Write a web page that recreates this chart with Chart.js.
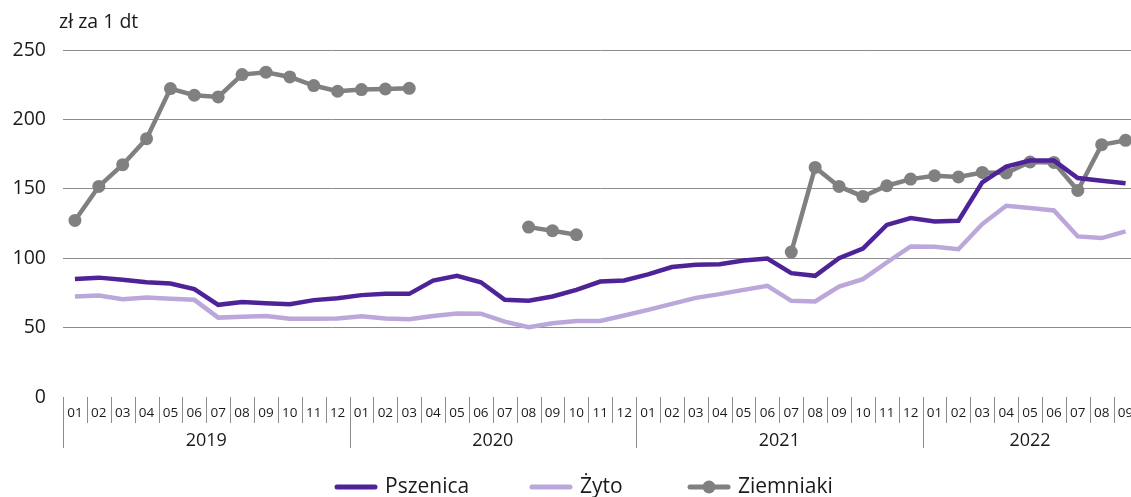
<!DOCTYPE html>
<html>
<head>
<meta charset="utf-8">
<script src="https://cdn.jsdelivr.net/npm/chart.js@4"></script>
<style>
  html, body { margin: 0; padding: 0; background: #fff; overflow: hidden; }
  #wrap { width: 1144px; height: 497px; }
</style>
</head>
<body>
<div id="wrap"><canvas id="wykres"></canvas></div>
<script>
  const miesiace = [
    '01','02','03','04','05','06','07','08','09','10','11','12',
    '01','02','03','04','05','06','07','08','09','10','11','12',
    '01','02','03','04','05','06','07','08','09','10','11','12',
    '01','02','03','04','05','06','07','08','09',
  ];
  const lata = ['2019', '2020', '2021', '2022'];
  const yTicks = [0, 50, 100, 150, 200, 250];

  const pszenica = [
    85, 86, 84.4, 82.7, 81.8, 77.7, 66.4, 68.5, 67.6, 66.9, 69.8, 71.2,
    73.4, 74.3, 74.3, 83.9, 87.3, 82.7, 70, 69.3, 72.4, 77.2, 83.2, 83.9,
    88.3, 93.6, 95.2, 95.7, 98.3, 99.8, 89.2, 87.3, 100, 107, 124, 128.9,
    126.5, 127, 154.6, 166, 170.3, 170.3, 157.8, 155.8, 154,
  ];
  const zyto = [
    72.4, 73.1, 70.5, 71.7, 70.7, 70, 57.2, 57.9, 58.4, 56.3, 56.3, 56.5,
    58.2, 56.5, 56, 58.4, 60.1, 60, 54.3, 50.3, 53.2, 54.8, 54.8, 58.7,
    62.8, 67.1, 71.4, 74.1, 77.2, 80.1, 69.3, 68.8, 79.6, 84.9, 96.9, 108.5,
    108.3, 106.5, 124.6, 137.8, 136.1, 134.4, 115.7, 114.5, 119.3,
  ];
  const ziemniaki = [
    127.2, 151.7, 167.4, 186.1, 222.2, 217.4, 216.2, 232.3, 234, 230.6, 224.4, 220.3,
    221.5, 221.9, 222.4, null, null, null, null, 122.4, 119.8, 116.9, null, null,
    null, null, null, null, null, null, 104.4, 165.4, 151.7, 144.5, 152.2, 157,
    159.4, 158.5, 161.8, 161.4, 169.3, 169, 148.8, 181.8, 184.9,
  ];

  const FONT = "'Open Sans', 'Noto Sans', sans-serif";

  const osX = {
    id: 'osX',
    afterDraw(chart) {
      const ctx = chart.ctx;
      const x = chart.scales.x;
      const top = chart.chartArea.bottom;
      const n = miesiace.length;
      const w = (x.getPixelForValue(1) - x.getPixelForValue(0));
      ctx.save();
      ctx.strokeStyle = '#8c8c8c';
      ctx.lineWidth = 1;
      for (let i = 0; i <= n; i++) {
        const px = Math.round(x.getPixelForValue(i) - w / 2) + 0.5;
        const dl = i % 12 === 0 ? 51 : 26;
        ctx.beginPath();
        ctx.moveTo(px, top);
        ctx.lineTo(px, top + dl);
        ctx.stroke();
      }
      ctx.fillStyle = '#1a1a1a';
      ctx.font = '18px ' + FONT;
      ctx.textAlign = 'center';
      ctx.textBaseline = 'middle';
      lata.forEach((rok, k) => {
        const a = k * 12;
        const b = Math.min(a + 11, n - 1);
        const xa = x.getPixelForValue(a) - w / 2;
        const xb = x.getPixelForValue(b) + w / 2;
        ctx.fillText(rok, (xa + xb) / 2, top + 44);
      });

      // tytul osi
      ctx.textAlign = 'left';
      ctx.font = '19.5px ' + FONT;
      ctx.fillText('zł za 1 dt', 59, 22);

      // legenda
      const ly = 487;
      const items = [
        { ds: chart.data.datasets[0], x: 337 },
        { ds: chart.data.datasets[1], x: 532 },
        { ds: chart.data.datasets[2], x: 690, dot: true },
      ];
      ctx.font = '21px ' + FONT;
      ctx.textBaseline = 'middle';
      items.forEach((it) => {
        ctx.strokeStyle = it.ds.borderColor;
        ctx.lineWidth = 5;
        ctx.lineCap = 'round';
        ctx.beginPath();
        ctx.moveTo(it.x, ly);
        ctx.lineTo(it.x + 38, ly);
        ctx.stroke();
        if (it.dot) {
          ctx.fillStyle = it.ds.borderColor;
          ctx.beginPath();
          ctx.arc(it.x + 19, ly, 6.5, 0, Math.PI * 2);
          ctx.fill();
        }
        ctx.fillStyle = '#1a1a1a';
        ctx.fillText(it.ds.label, it.x + 48, ly);
      });
      ctx.restore();
    },
  };

  new Chart(document.getElementById('wykres'), {
    type: 'line',
    data: {
      labels: miesiace,
      datasets: [
        {
          label: 'Pszenica',
          data: pszenica,
          borderColor: '#4f2398',
          borderWidth: 4.5,
          pointRadius: 0,
          tension: 0,
        },
        {
          label: 'Żyto',
          data: zyto,
          borderColor: '#bba7da',
          borderWidth: 4.5,
          pointRadius: 0,
          tension: 0,
        },
        {
          label: 'Ziemniaki',
          data: ziemniaki,
          borderColor: '#808080',
          backgroundColor: '#808080',
          borderWidth: 4.5,
          pointRadius: 6.5,
          pointHoverRadius: 6.5,
          pointBorderWidth: 0,
          spanGaps: false,
          tension: 0,
        },
      ],
    },
    options: {
      responsive: true,
      maintainAspectRatio: false,
      animation: false,
      layout: { padding: { top: 50, right: 0, left: 0, bottom: 0 } },
      plugins: {
        legend: { display: false },
        tooltip: { enabled: false },
      },
      scales: {
        x: {
          type: 'category',
          offset: true,
          grid: { display: false, drawTicks: false },
          border: { display: false },
          ticks: {
            autoSkip: false,
            maxRotation: 0,
            padding: 8,
            color: '#1a1a1a',
            font: { size: 13.5, family: FONT },
          },
          afterFit(scale) { scale.height = 100; },
        },
        y: {
          min: 0,
          max: 250,
          border: { display: false },
          afterBuildTicks(scale) { scale.ticks = yTicks.map((v) => ({ value: v })); },
          grid: {
            drawTicks: false,
            color: (c) => (c.tick && c.tick.value === 0 ? 'rgba(0,0,0,0)' : '#8c8c8c'),
            lineWidth: 1,
          },
          ticks: {
            padding: 17,
            color: '#1a1a1a',
            font: { size: 19.5, family: FONT },
          },
          afterFit(scale) { scale.width = 63; },
        },
      },
    },
    plugins: [osX],
  });
</script>
</body>
</html>
